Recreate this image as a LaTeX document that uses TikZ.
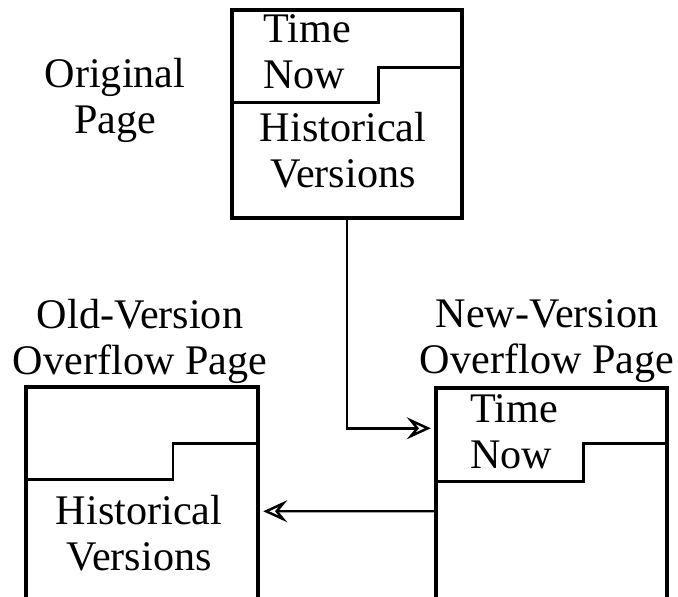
\documentclass[tikz,border=0pt]{standalone}
\usepackage{fontspec}
\setmainfont{Liberation Serif}
\usetikzlibrary{arrows.meta, positioning, calc}

\begin{document}
\begin{tikzpicture}[x=0.02cm, y=-0.02cm,
    page/.style={draw, rectangle, line width=2pt, inner sep=0pt},
    lbl/.style={font=\fontsize{24}{26.2}\selectfont, inner sep=0pt, align=center},
    arr/.style={-{Stealth[open, length=4.8mm, width=4.4mm, inset=1.8mm]}, line width=1.4pt, shorten >=2pt}]
    \useasboundingbox (0,0) rectangle (678,596);

    \node[page, minimum width=4.6cm, minimum height=4.16cm] (orig) at (347,114) {};
    \node[page, minimum width=4.64cm, minimum height=5.44cm] (old) at (142,523) {};
    \node[page, minimum width=4.62cm, minimum height=5.44cm] (new) at (551.5,524) {};

    % time-now steps
    \draw[line width=1.7pt] (462,67) -- (378,67) -- (378,102) -- (232,102);
    \draw[line width=1.7pt] (258,443) -- (173,443) -- (173,479) -- (26,479);
    \draw[line width=1.7pt] (667,443) -- (583,443) -- (583,481) -- (436,481);

    \node[lbl] (origlbl) at (115,100) {Original\\Page};
    \node[lbl, anchor=west, align=left] (orignow) at (263,52) {Time\\Now};
    \node[lbl] (orighist) at (343,150) {Historical\\Versions};
    \node[lbl] (oldlbl) at (140,341) {Old-Version\\Overflow Page};
    \node[lbl] (newlbl) at (547,341) {New-Version\\Overflow Page};
    \node[lbl, anchor=west, align=left] (newnow) at (470,432) {Time\\Now};
    \node[lbl] (oldhist) at (139,533) {Historical\\Versions};

    \draw[arr] (orig.south) |- ([yshift=-0.84cm]new.north west);
    \draw[arr] ([yshift=-2.5cm]new.north west) -- ([yshift=-2.52cm]old.north east);
\end{tikzpicture}
\end{document}
